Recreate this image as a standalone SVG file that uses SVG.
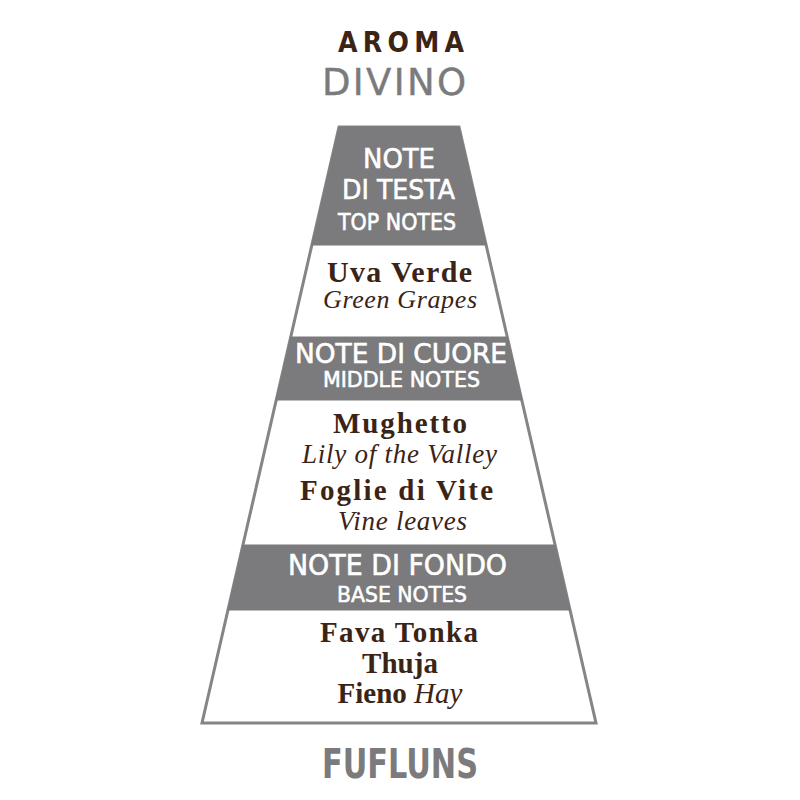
<svg xmlns="http://www.w3.org/2000/svg" width="800" height="800" viewBox="0 0 800 800">
<style>
.band{fill:#7b7a7c;stroke:#7b7a7c;stroke-width:1}
.outline{fill:#ffffff;stroke:#858486;stroke-width:3;stroke-linejoin:miter}
.hd{font-family:"DejaVu Sans","Liberation Sans",sans-serif;fill:#ffffff;stroke:#ffffff;stroke-width:0.6;text-anchor:middle}
.nm{font-family:"Liberation Serif","DejaVu Serif",serif;font-weight:bold;fill:#3b2416;text-anchor:middle}
.tr{font-family:"Liberation Serif","DejaVu Serif",serif;font-style:italic;fill:#3b2416;text-anchor:middle}
.title{font-family:"DejaVu Sans","Liberation Sans",sans-serif;text-anchor:middle}
.cond{font-family:"DejaVu Sans Condensed","DejaVu Sans",sans-serif;font-stretch:condensed}
</style>
<rect width="800" height="800" fill="#ffffff"/>
<g id="title">
<text class="title cond" x="401" y="52" font-size="28" font-weight="bold" fill="#3b2416" textLength="126">AROMA</text>
<text class="title" x="394" y="95" font-size="37" fill="#7b7a7c" stroke="#7b7a7c" stroke-width="0.4" textLength="144">DIVINO</text>
</g>
<g id="pyramid">
<polygon class="outline" points="339,127 459,127 596,723 202,723"/>
<polygon class="band" points="339,127 459,127 486.1,245 311.9,245"/>
<polygon class="band" points="290.7,337 507.3,337 521.8,400 276.2,400"/>
<polygon class="band" points="242.9,545 555.1,545 570,610 228,610"/>
</g>
<g id="top-notes">
<text class="hd" x="399" y="168" font-size="27" textLength="72" lengthAdjust="spacingAndGlyphs">NOTE</text>
<text class="hd" x="398.5" y="199" font-size="27" textLength="113" lengthAdjust="spacingAndGlyphs">DI TESTA</text>
<text class="hd" x="397" y="230" font-size="23" textLength="118" lengthAdjust="spacingAndGlyphs">TOP NOTES</text>
</g>
<g id="top-ingredients">
<text class="nm" x="399.5" y="282" font-size="30" textLength="145">Uva Verde</text>
<text class="tr" x="400" y="308" font-size="26" textLength="154">Green Grapes</text>
</g>
<g id="middle-notes">
<text class="hd" x="401" y="363" font-size="26" textLength="212" lengthAdjust="spacingAndGlyphs">NOTE DI CUORE</text>
<text class="hd" x="401.5" y="387" font-size="21" textLength="157" lengthAdjust="spacingAndGlyphs">MIDDLE NOTES</text>
</g>
<g id="middle-ingredients">
<text class="nm" x="400" y="433" font-size="29" textLength="134">Mughetto</text>
<text class="tr" x="399.5" y="463" font-size="27" textLength="195">Lily of the Valley</text>
<text class="nm" x="396.5" y="500" font-size="29" textLength="193">Foglie di Vite</text>
<text class="tr" x="402.5" y="530" font-size="27" textLength="129">Vine leaves</text>
</g>
<g id="base-notes">
<text class="hd" x="397.5" y="575" font-size="28" textLength="219" lengthAdjust="spacingAndGlyphs">NOTE DI FONDO</text>
<text class="hd" x="402" y="602" font-size="22" textLength="130" lengthAdjust="spacingAndGlyphs">BASE NOTES</text>
</g>
<g id="base-ingredients">
<text class="nm" x="399" y="642" font-size="29" textLength="158">Fava Tonka</text>
<text class="nm" x="400" y="673" font-size="29" textLength="76">Thuja</text>
<text class="nm" x="400" y="703" font-size="29">Fieno <tspan font-weight="normal" font-style="italic">Hay</tspan></text>
</g>
<g id="footer">
<text class="title cond" x="400" y="778" font-size="41" font-weight="bold" fill="#7b7a7c" textLength="156" lengthAdjust="spacingAndGlyphs">FUFLUNS</text>
</g>
</svg>
